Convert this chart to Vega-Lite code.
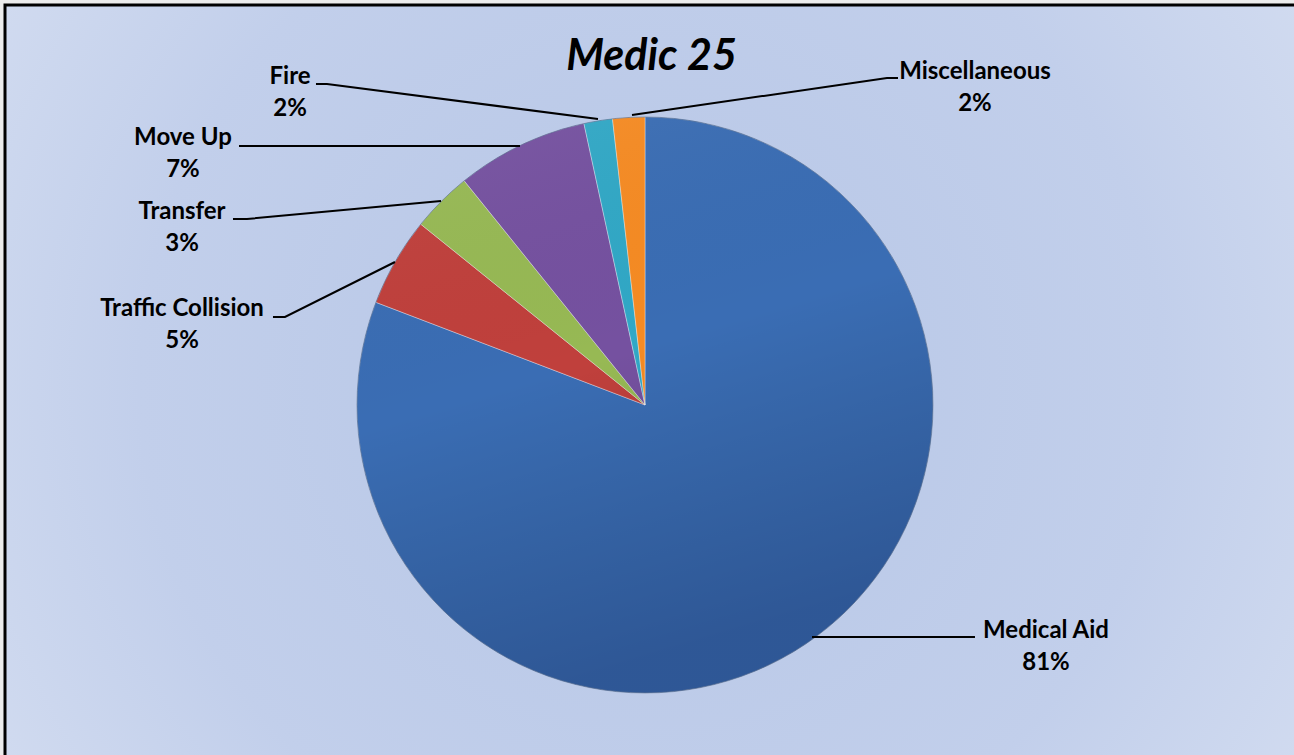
{
  "$schema": "https://vega.github.io/schema/vega-lite/v6.json",
  "width": 1293,
  "height": 754,
  "autosize": {"type": "none"},
  "padding": {"left": 5, "top": 5, "right": -4, "bottom": -4},
  "background": "#ececec",
  "config": {
    "view": {
      "stroke": "#000000",
      "strokeWidth": 3,
      "fill": {"gradient": "radial", "x1": 0.5, "y1": 0.5, "x2": 0.5, "y2": 0.5, "r1": 0, "r2": 0.72,
        "stops": [{"offset": 0, "color": "#b6c6e6"}, {"offset": 0.55, "color": "#c2cfeb"}, {"offset": 1, "color": "#dbe3f3"}]}
    },
    "font": "Lato"
  },
  "title": {
    "text": "Medic 25",
    "font": "Lato",
    "fontSize": 43,
    "fontStyle": "italic",
    "fontWeight": "bold",
    "color": "#000000",
    "anchor": "middle",
    "offset": -74
  },
  "datasets": {
    "slices": [
      {"category": "Medical Aid", "share": 0.808, "idx": 1, "labelX": 1.3924, "labelY": -0.7847},
      {"category": "Traffic Collision", "share": 0.050, "idx": 2, "labelX": -1.6076, "labelY": 0.3333},
      {"category": "Transfer", "share": 0.034, "idx": 3, "labelX": -1.6076, "labelY": 0.6701},
      {"category": "Move Up", "share": 0.074, "idx": 4, "labelX": -1.6042, "labelY": 0.9271},
      {"category": "Fire", "share": 0.016, "idx": 5, "labelX": -1.2326, "labelY": 1.1389},
      {"category": "Miscellaneous", "share": 0.018, "idx": 6, "labelX": 1.1458, "labelY": 1.1563}
    ],
    "leaders": [
      {"category": "Fire", "seq": 1, "lx": -1.1424, "ly": 1.1146},
      {"category": "Fire", "seq": 2, "lx": -1.1042, "ly": 1.1146},
      {"category": "Fire", "seq": 3, "lx": -0.1632, "ly": 0.9931},
      {"category": "Move Up", "seq": 1, "lx": -1.4097, "ly": 0.8993},
      {"category": "Move Up", "seq": 2, "lx": -0.4340, "ly": 0.8993},
      {"category": "Transfer", "seq": 1, "lx": -1.4306, "ly": 0.6458},
      {"category": "Transfer", "seq": 2, "lx": -1.3819, "ly": 0.6458},
      {"category": "Transfer", "seq": 3, "lx": -0.7083, "ly": 0.7083},
      {"category": "Traffic Collision", "seq": 1, "lx": -1.2917, "ly": 0.3056},
      {"category": "Traffic Collision", "seq": 2, "lx": -1.25, "ly": 0.3056},
      {"category": "Traffic Collision", "seq": 3, "lx": -0.8681, "ly": 0.4965},
      {"category": "Miscellaneous", "seq": 1, "lx": 0.8785, "ly": 1.1354},
      {"category": "Miscellaneous", "seq": 2, "lx": 0.8403, "ly": 1.1354},
      {"category": "Miscellaneous", "seq": 3, "lx": -0.0451, "ly": 1.0069},
      {"category": "Medical Aid", "seq": 1, "lx": 1.1458, "ly": -0.8056},
      {"category": "Medical Aid", "seq": 2, "lx": 0.5799, "ly": -0.8056}
    ]
  },
  "layer": [
    {
      "data": {"name": "slices"},
      "mark": {"type": "arc", "outerRadius": 288, "stroke": "#ffffff", "strokeOpacity": 0.35, "strokeWidth": 1},
      "encoding": {
        "x": {"datum": 0, "type": "quantitative", "scale": {"domain": [-2.2222, 2.2674], "nice": false, "zero": false}, "axis": null},
        "y": {"datum": 0, "type": "quantitative", "scale": {"domain": [-1.2292, 1.3889], "nice": false, "zero": false}, "axis": null},
        "theta": {"field": "share", "type": "quantitative", "stack": true},
        "order": {"field": "idx", "type": "quantitative"},
        "color": {
          "field": "category", "type": "nominal", "legend": null,
          "scale": {
            "domain": ["Medical Aid", "Traffic Collision", "Transfer", "Move Up", "Fire", "Miscellaneous"],
            "range": ["#3a6db4", "#c0403c", "#97b954", "#7551a0", "#31a8c6", "#f68b23"]
          }
        }
      }
    },
    {
      "data": {"name": "slices"},
      "transform": [{"aggregate": [{"op": "count", "as": "n"}]}],
      "mark": {
        "type": "arc", "outerRadius": 288, "theta": 0, "theta2": 6.2832,
        "stroke": "#1d3a66", "strokeOpacity": 0.45, "strokeWidth": 1,
        "fill": {"gradient": "linear", "x1": 0, "y1": 0, "x2": 0.3, "y2": 1,
          "stops": [{"offset": 0, "color": "rgba(255,255,255,0.06)"}, {"offset": 0.5, "color": "rgba(0,0,0,0)"}, {"offset": 1, "color": "rgba(0,0,30,0.2)"}]}
      },
      "encoding": {
        "x": {"datum": 0, "type": "quantitative"},
        "y": {"datum": 0, "type": "quantitative"}
      }
    },
    {
      "data": {"name": "leaders"},
      "mark": {"type": "line", "color": "#000000", "strokeWidth": 2},
      "encoding": {
        "x": {"field": "lx", "type": "quantitative"},
        "y": {"field": "ly", "type": "quantitative"},
        "detail": {"field": "category", "type": "nominal"},
        "order": {"field": "seq", "type": "quantitative"}
      }
    },
    {
      "data": {"name": "slices"},
      "mark": {"type": "text", "font": "Lato", "fontSize": 24, "fontWeight": "bold", "color": "#000000", "align": "center", "baseline": "middle"},
      "encoding": {
        "x": {"field": "labelX", "type": "quantitative"},
        "y": {"field": "labelY", "type": "quantitative"},
        "text": {"field": "category", "type": "nominal"}
      }
    },
    {
      "data": {"name": "slices"},
      "mark": {"type": "text", "font": "Lato", "fontSize": 24, "fontWeight": "bold", "color": "#000000", "align": "center", "baseline": "middle", "dy": 32},
      "encoding": {
        "x": {"field": "labelX", "type": "quantitative"},
        "y": {"field": "labelY", "type": "quantitative"},
        "text": {"field": "share", "type": "quantitative", "format": ".0%"}
      }
    }
  ]
}
